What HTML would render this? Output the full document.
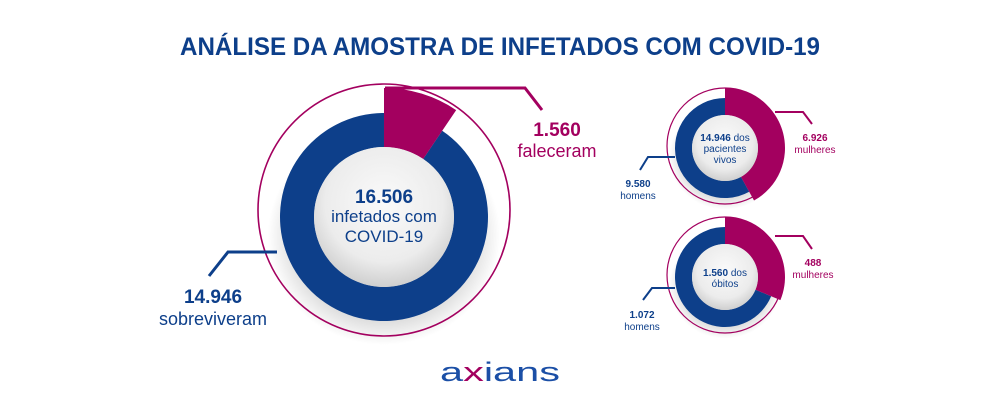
<!DOCTYPE html>
<html><head><meta charset="utf-8">
<style>
html,body{margin:0;padding:0;background:#fff;}
svg{display:block;font-family:"Liberation Sans",sans-serif;}
</style></head>
<body>
<svg id="chart" width="1000" height="400" viewBox="0 0 1000 400">
<defs>
<radialGradient id="cg" cx="50%" cy="40%" r="60%">
<stop offset="0%" stop-color="#fafafa"/><stop offset="70%" stop-color="#ececec"/><stop offset="100%" stop-color="#cfcfcf"/>
</radialGradient>
<radialGradient id="sh" cx="50%" cy="50%" r="50%">
<stop offset="70%" stop-color="#000" stop-opacity="0.18"/><stop offset="100%" stop-color="#000" stop-opacity="0"/>
</radialGradient>
</defs>
<text x="500" y="55" text-anchor="middle" font-size="25" font-weight="bold" fill="#0d3f8a" textLength="640" lengthAdjust="spacingAndGlyphs">ANÁLISE DA AMOSTRA DE INFETADOS COM COVID-19</text>
<g id="donuts"></g>
<g>
<text x="440" y="381" font-size="27" fill="#1b4fa6" textLength="120" lengthAdjust="spacingAndGlyphs">a<tspan fill="#a3005f">x</tspan>ians</text>
</g>
</svg>
<script>
const NS="http://www.w3.org/2000/svg";
const donutNames=["total","vivos","obitos"];
const magentaValues=[1560,6926,488];
const blueValues=[14946,9580,1072];
const centerTotals=[16506,14946,1560];
const BLUE="#0d3f8a",MAG="#a3005f";
const g=document.getElementById("donuts");
function mk(t,a){const e=document.createElementNS(NS,t);for(const k in a)e.setAttribute(k,a[k]);return e;}
function arc(cx,cy,ro,ri,a0,a1){
 const p=(r,a)=>[cx+r*Math.sin(a),cy-r*Math.cos(a)];
 const l=(a1-a0)>Math.PI?1:0;
 const [x0,y0]=p(ro,a0),[x1,y1]=p(ro,a1),[x2,y2]=p(ri,a1),[x3,y3]=p(ri,a0);
 return `M${x0} ${y0}A${ro} ${ro} 0 ${l} 1 ${x1} ${y1}L${x2} ${y2}A${ri} ${ri} 0 ${l} 0 ${x3} ${y3}Z`;
}
const geo=[{cx:384,cy:217,ro:104,ri:70,rs:129,ringR:126,ringDy:-7,ringW:1.6},
 {cx:725,cy:148,ro:50,ri:33,rs:60,ringR:58,ringDy:-2,ringW:1.2},
 {cx:725,cy:277,ro:50,ri:33,rs:60,ringR:58,ringDy:-2,ringW:1.2}];
donutNames.forEach((n,i)=>{
 const G=geo[i];const frac=magentaValues[i]/(magentaValues[i]+blueValues[i]);const a=frac*2*Math.PI;
 const grp=mk("g",{});
 
 
 const sh=mk("ellipse",{cx:G.cx,cy:G.cy+G.ro*0.18,rx:G.ro*1.12,ry:G.ro*1.05,fill:"url(#sh)"});
 
 
 grp.appendChild(sh);
 const ring=mk("circle",{cx:G.cx,cy:G.cy+G.ringDy,r:G.ringR,fill:"none",stroke:MAG,"stroke-width":G.ringW});
 
 
 grp.appendChild(ring);
 const b=mk("path",{d:arc(G.cx,G.cy,G.ro,G.ri,a,2*Math.PI-0.0001),fill:BLUE});
 
 
 grp.appendChild(b);
 const m=mk("path",{d:arc(G.cx,G.cy,G.rs,G.ri,0,a),fill:MAG});
 
 
 grp.appendChild(m);
 const c=mk("circle",{cx:G.cx,cy:G.cy,r:G.ri,fill:"url(#cg)"});
 
 
 grp.appendChild(c);
 g.appendChild(grp);
});
function fmt(v){return v.toLocaleString("de-DE");}
function line(pts,col,w){const p=mk("polyline",{points:pts,fill:"none",stroke:col,"stroke-width":w});g.appendChild(p);}
function txt(x,y,s,size,col,bold,name){const t=mk("text",{x:x,y:y,"text-anchor":"middle","font-size":size,fill:col,"font-weight":bold?"bold":"normal"});t.textContent=s;g.appendChild(t);return t;}
line("385,88 525,88 542,110",MAG,3);
txt(557,136,fmt(magentaValues[0]),19,MAG,true,"deaths-value");
txt(557,157,"faleceram",18,MAG,false,"deaths-label");
line("277,252 228,252 209,276",BLUE,3);
txt(213,303,fmt(blueValues[0]),19,BLUE,true,"survivors-value");
txt(213,325,"sobreviveram",18,BLUE,false,"survivors-label");
txt(384,203,fmt(centerTotals[0]),19,BLUE,true,"total-value");
txt(384,222,"infetados com",17,BLUE,false,"total-label");
txt(384,242,"COVID-19",17,BLUE,false,"total-label-2");
line("775,112 803,112 812,124",MAG,2);
txt(815,141,fmt(magentaValues[1]),10,MAG,true,"women-alive-value");
txt(815,153,"mulheres",10,MAG,false,"women-alive-label");
line("675,157 648,157 640,170",BLUE,2);
txt(638,187,fmt(blueValues[1]),10,BLUE,true,"men-alive-value");
txt(638,199,"homens",10,BLUE,false,"men-alive-label");
const t1=txt(725,141,"",10,BLUE,false,"alive-center");
t1.innerHTML='<tspan font-weight="bold">'+fmt(centerTotals[1])+'</tspan> dos';
txt(725,152,"pacientes",10,BLUE,false,"alive-center-2");
txt(725,163,"vivos",10,BLUE,false,"alive-center-3");
line("775,236 803,236 812,249",MAG,2);
txt(813,266,fmt(magentaValues[2]),10,MAG,true,"women-deaths-value");
txt(813,278,"mulheres",10,MAG,false,"women-deaths-label");
line("675,288 652,288 643,300",BLUE,2);
txt(642,318,fmt(blueValues[2]),10,BLUE,true,"men-deaths-value");
txt(642,330,"homens",10,BLUE,false,"men-deaths-label");
const t2=txt(725,276,"",10,BLUE,false,"deaths-center");
t2.innerHTML='<tspan font-weight="bold">'+fmt(centerTotals[2])+'</tspan> dos';
txt(725,287,"óbitos",10,BLUE,false,"deaths-center-2");
</script>
</body></html>
